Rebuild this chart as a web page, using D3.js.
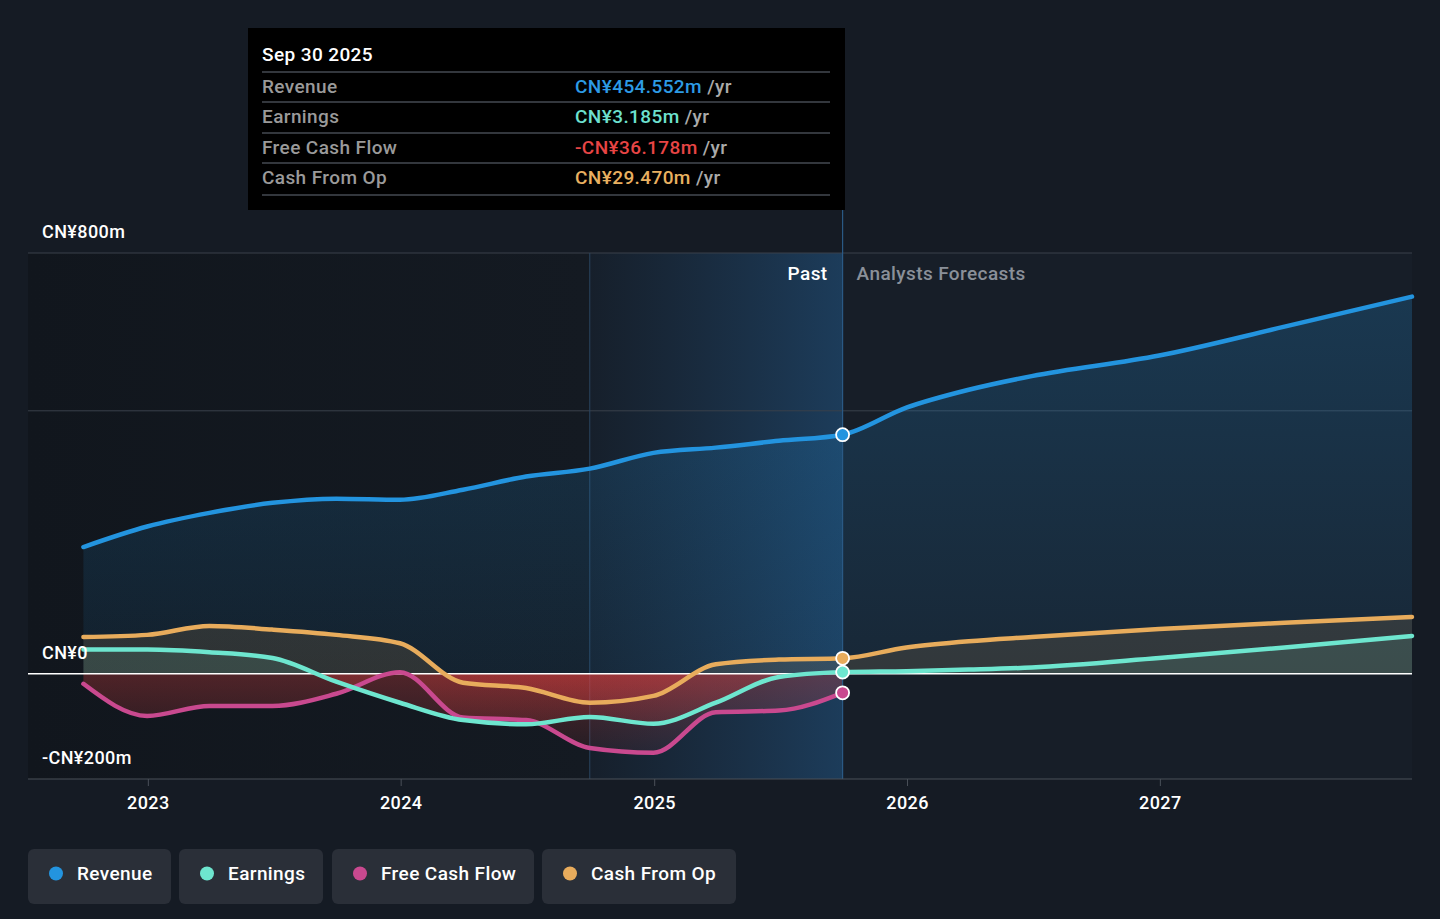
<!DOCTYPE html>
<html>
<head>
<meta charset="utf-8">
<script src="https://cdn.jsdelivr.net/npm/d3@7"></script>
<style>
  body { margin: 0; background: #151b24; font-family: Roboto, "Noto Sans", sans-serif; }
  svg { display: block; }
  svg text { letter-spacing: 0.4px; }
  .ylabel { fill: #ffffff; font-size: 18px; font-weight: 500; }
  .legend { fill: #ffffff; font-size: 19px; font-weight: 500; }
</style>
</head>
<body>
<svg id="chart" width="1440" height="919"></svg>
<script>
// ---- data (CN¥ millions) ----
const pastDates = ["2022-09-30","2022-12-31","2023-03-31","2023-06-30","2023-09-30","2023-12-31",
  "2024-03-31","2024-06-30","2024-09-30","2024-12-31","2025-03-31","2025-06-30","2025-09-30"];
const revenuePast = [241, 280, 306, 325, 333, 331, 350, 375, 390, 420, 430, 443, 454.552];
const earningsPast = [46, 46, 41, 30, -15, -55, -88, -96, -82, -95, -55, -6, 3.185];
const fcfPast = [-19, -80, -61, -61, -38, 3, -83, -88, -141, -150, -73, -70, -36.178];
const cfoPast = [70, 74, 91, 84, 74, 58, -17, -27, -55, -42, 18, 27, 29.47];

const forecastDates = ["2025-09-30","2025-12-31","2026-03-31","2026-06-30","2026-12-31","2027-06-30","2027-12-31"];
const revenueFc = [454.552, 506, 540, 566, 605, 660, 717];
const earningsFc = [3.185, 5, 8, 12, 30, 50, 72];
const cfoFc = [29.47, 50, 62, 70, 85, 97, 108];

const yTicks = [800, 0, -200];
const yTickLabels = ["CN¥800m", "CN¥0", "-CN¥200m"];
const gridValues = [800, 500];
const xTickYears = [2023, 2024, 2025, 2026, 2027];

const colors = { revenue: "#2394df", earnings: "#6ee6cf", fcf: "#c9498f", cfo: "#e8ac5c" };
const legendNames = ["Revenue", "Earnings", "Free Cash Flow", "Cash From Op"];
const legendColors = [colors.revenue, colors.earnings, colors.fcf, colors.cfo];

const tipTitle = "Sep 30 2025";
const tipLabels = ["Revenue", "Earnings", "Free Cash Flow", "Cash From Op"];
const tipValues = ["CN¥454.552m", "CN¥3.185m", "-CN¥36.178m", "CN¥29.470m"];
const tipColors = ["#2d9be5", "#6de0cf", "#e84545", "#e9b060"];

// ---- scales ----
const parse = d3.timeParse("%Y-%m-%d");
const plotLeft = 28, plotRight = 1412, plotTop = 253, plotBottom = 779;
const x = d3.scaleTime().domain([parse("2022-07-12"), parse("2027-12-31")]).range([plotLeft, plotRight]);
const y = d3.scaleLinear().domain([-200, 800]).range([plotBottom, plotTop]);

const svg = d3.select("#chart");
const defs = svg.append("defs");

function zip(dates, vals) { return dates.map((d, i) => ({ date: parse(d), v: vals[i] })); }
const revenue = zip(pastDates, revenuePast).concat(zip(forecastDates, revenueFc).slice(1));
const earnings = zip(pastDates, earningsPast).concat(zip(forecastDates, earningsFc).slice(1));
const cfo = zip(pastDates, cfoPast).concat(zip(forecastDates, cfoFc).slice(1));
const fcf = zip(pastDates, fcfPast);

const pastEnd = parse("2025-09-30");
const bandStart = parse("2024-09-30");

// ---- background regions ----
svg.append("rect").attr("x", 0).attr("y", 0).attr("width", 1440).attr("height", 919).attr("fill", "#151b24");
const pastBg = defs.append("linearGradient").attr("id", "pastBg");
pastBg.append("stop").attr("offset", "0%").attr("stop-color", "#11161d");
pastBg.append("stop").attr("offset", "100%").attr("stop-color", "#141a22");
svg.append("rect").attr("x", plotLeft).attr("y", plotTop).attr("width", x(bandStart) - plotLeft)
  .attr("height", plotBottom - plotTop).attr("fill", "url(#pastBg)");
const band = defs.append("linearGradient").attr("id", "band");
band.append("stop").attr("offset", "0%").attr("stop-color", "#2a6fae").attr("stop-opacity", 0.05);
band.append("stop").attr("offset", "100%").attr("stop-color", "#2a7ac0").attr("stop-opacity", 0.35);
svg.append("rect").attr("x", x(bandStart)).attr("y", plotTop).attr("width", x(pastEnd) - x(bandStart))
  .attr("height", plotBottom - plotTop).attr("fill", "url(#band)");
svg.append("rect").attr("x", x(pastEnd)).attr("y", plotTop).attr("width", plotRight - x(pastEnd))
  .attr("height", plotBottom - plotTop).attr("fill", "#171e28");

// grid lines
svg.selectAll(".grid").data(gridValues).enter().append("line")
  .attr("x1", plotLeft).attr("x2", plotRight).attr("y1", d => y(d)).attr("y2", d => y(d))
  .attr("stroke", "#3a414b").attr("stroke-width", 1);

// band border line
svg.append("line").attr("x1", x(bandStart)).attr("x2", x(bandStart)).attr("y1", plotTop).attr("y2", plotBottom)
  .attr("stroke", "#2a4560").attr("stroke-width", 1);

// ---- areas ----
const curve = d3.curveMonotoneX;
const revGrad = defs.append("linearGradient").attr("id", "revGrad").attr("x1", 0).attr("x2", 0).attr("y1", 0).attr("y2", 1);
revGrad.append("stop").attr("offset", "0%").attr("stop-color", colors.revenue).attr("stop-opacity", 0.22);
revGrad.append("stop").attr("offset", "100%").attr("stop-color", colors.revenue).attr("stop-opacity", 0.08);
svg.append("path").datum(revenue)
  .attr("d", d3.area().curve(curve).x(d => x(d.date)).y0(y(0)).y1(d => y(d.v)))
  .attr("fill", "url(#revGrad)");

defs.append("clipPath").attr("id", "above").append("rect")
  .attr("x", plotLeft).attr("y", 0).attr("width", plotRight - plotLeft).attr("height", y(0));
defs.append("clipPath").attr("id", "below").append("rect")
  .attr("x", plotLeft).attr("y", y(0)).attr("width", plotRight - plotLeft).attr("height", plotBottom - y(0));
const negGrad = defs.append("linearGradient").attr("id", "negGrad").attr("gradientUnits", "userSpaceOnUse")
  .attr("x1", 0).attr("x2", 0).attr("y1", y(0)).attr("y2", y(-160));
negGrad.append("stop").attr("offset", "0%").attr("stop-color", "#e0403f").attr("stop-opacity", 0.3);
negGrad.append("stop").attr("offset", "100%").attr("stop-color", "#e0403f").attr("stop-opacity", 0.06);

[[earnings, colors.earnings], [fcf, colors.fcf], [cfo, colors.cfo]].forEach(function (s) {
  const a = d3.area().curve(curve).x(d => x(d.date)).y0(y(0)).y1(d => y(d.v));
  svg.append("path").datum(s[0]).attr("d", a).attr("clip-path", "url(#above)")
    .attr("fill", s[1]).attr("fill-opacity", 0.13);
  svg.append("path").datum(s[0]).attr("d", a).attr("clip-path", "url(#below)")
    .attr("fill", "url(#negGrad)");
});

// zero line
svg.append("line").attr("x1", plotLeft).attr("x2", plotRight).attr("y1", y(0)).attr("y2", y(0))
  .attr("stroke", "#ffffff").attr("stroke-width", 1.5);

// ---- lines ----
const line = d3.line().curve(curve).x(d => x(d.date)).y(d => y(d.v));
[[cfo, colors.cfo], [fcf, colors.fcf], [earnings, colors.earnings], [revenue, colors.revenue]].forEach(function (s) {
  svg.append("path").datum(s[0]).attr("d", line).attr("fill", "none")
    .attr("stroke", s[1]).attr("stroke-width", 4.5).attr("stroke-linecap", "round");
});

// past/forecast divider
svg.append("line").attr("x1", x(pastEnd)).attr("x2", x(pastEnd)).attr("y1", 210).attr("y2", plotBottom)
  .attr("stroke", "#2b5a85").attr("stroke-width", 1.2);

// dots at last reported
[[revenuePast, colors.revenue], [cfoPast, colors.cfo], [earningsPast, colors.earnings], [fcfPast, colors.fcf]].forEach(function (s) {
  svg.append("circle").attr("cx", x(pastEnd)).attr("cy", y(s[0][s[0].length - 1])).attr("r", 6.5)
    .attr("fill", s[1]).attr("stroke", "#ffffff").attr("stroke-width", 1.8);
});

// ---- axes ----
const xAxis = d3.axisBottom(x).tickValues(xTickYears.map(yr => new Date(yr, 0, 1)))
  .tickFormat(d3.timeFormat("%Y")).tickSize(7).tickPadding(6);
const gx = svg.append("g").attr("transform", `translate(0,${plotBottom})`).call(xAxis);
gx.select(".domain").attr("stroke", "#4a5059").attr("d", `M${plotLeft},0H${plotRight}`);
gx.selectAll(".tick line").attr("stroke", "#4a5059");
gx.selectAll(".tick text").attr("fill", "#ffffff").attr("font-family", "Roboto, sans-serif")
  .attr("font-size", 18).attr("font-weight", 500).attr("dy", "0.95em");

svg.selectAll(".ylabel").data(yTicks).enter().append("text")
  .attr("class", "ylabel").attr("x", 42).attr("y", d => y(d) - 15)
  .text((d, i) => yTickLabels[i]);

// Past / Forecast labels
svg.append("text").attr("x", x(pastEnd) - 15).attr("y", 280).attr("text-anchor", "end")
  .attr("fill", "#ffffff").attr("font-size", 19).attr("font-weight", 500).text("Past");
svg.append("text").attr("x", x(pastEnd) + 14).attr("y", 280)
  .attr("fill", "#8a9099").attr("font-size", 19).attr("font-weight", 500).text("Analysts Forecasts");

// ---- tooltip ----
const tip = svg.append("g");
tip.append("rect").attr("x", 248).attr("y", 28).attr("width", 597).attr("height", 182).attr("fill", "#000000");
tip.append("text").attr("x", 262).attr("y", 61).attr("fill", "#ffffff").attr("font-size", 19)
  .attr("font-weight", 500).text(tipTitle);
const rowY = [72, 102, 133, 163, 195];
rowY.forEach(function (ry) {
  tip.append("line").attr("x1", 262).attr("x2", 830).attr("y1", ry).attr("y2", ry)
    .attr("stroke", "#444a52").attr("stroke-width", 1.5);
});
tipLabels.forEach(function (lbl, i) {
  const ty = rowY[i] + 21;
  tip.append("text").attr("x", 262).attr("y", ty).attr("fill", "#9a9a9a").attr("font-size", 19)
    .attr("font-weight", 500).text(lbl);
  const t = tip.append("text").attr("x", 575).attr("y", ty).attr("font-size", 19).attr("font-weight", 500);
  t.append("tspan").attr("fill", tipColors[i]).text(tipValues[i]);
  t.append("tspan").attr("fill", "#aaaaaa").text(" /yr");
});

// ---- legend ----
const legendX = [28, 179, 332, 542];
const legendW = [143, 144, 202, 194];
legendNames.forEach(function (name, i) {
  const g = svg.append("g").attr("transform", `translate(${legendX[i]},849)`);
  g.append("rect").attr("width", legendW[i]).attr("height", 55).attr("rx", 6).attr("fill", "#2a2f38");
  g.append("circle").attr("cx", 28).attr("cy", 24.5).attr("r", 7).attr("fill", legendColors[i]);
  g.append("text").attr("class", "legend").attr("x", 49).attr("y", 31).text(name);
});
</script>
</body>
</html>
